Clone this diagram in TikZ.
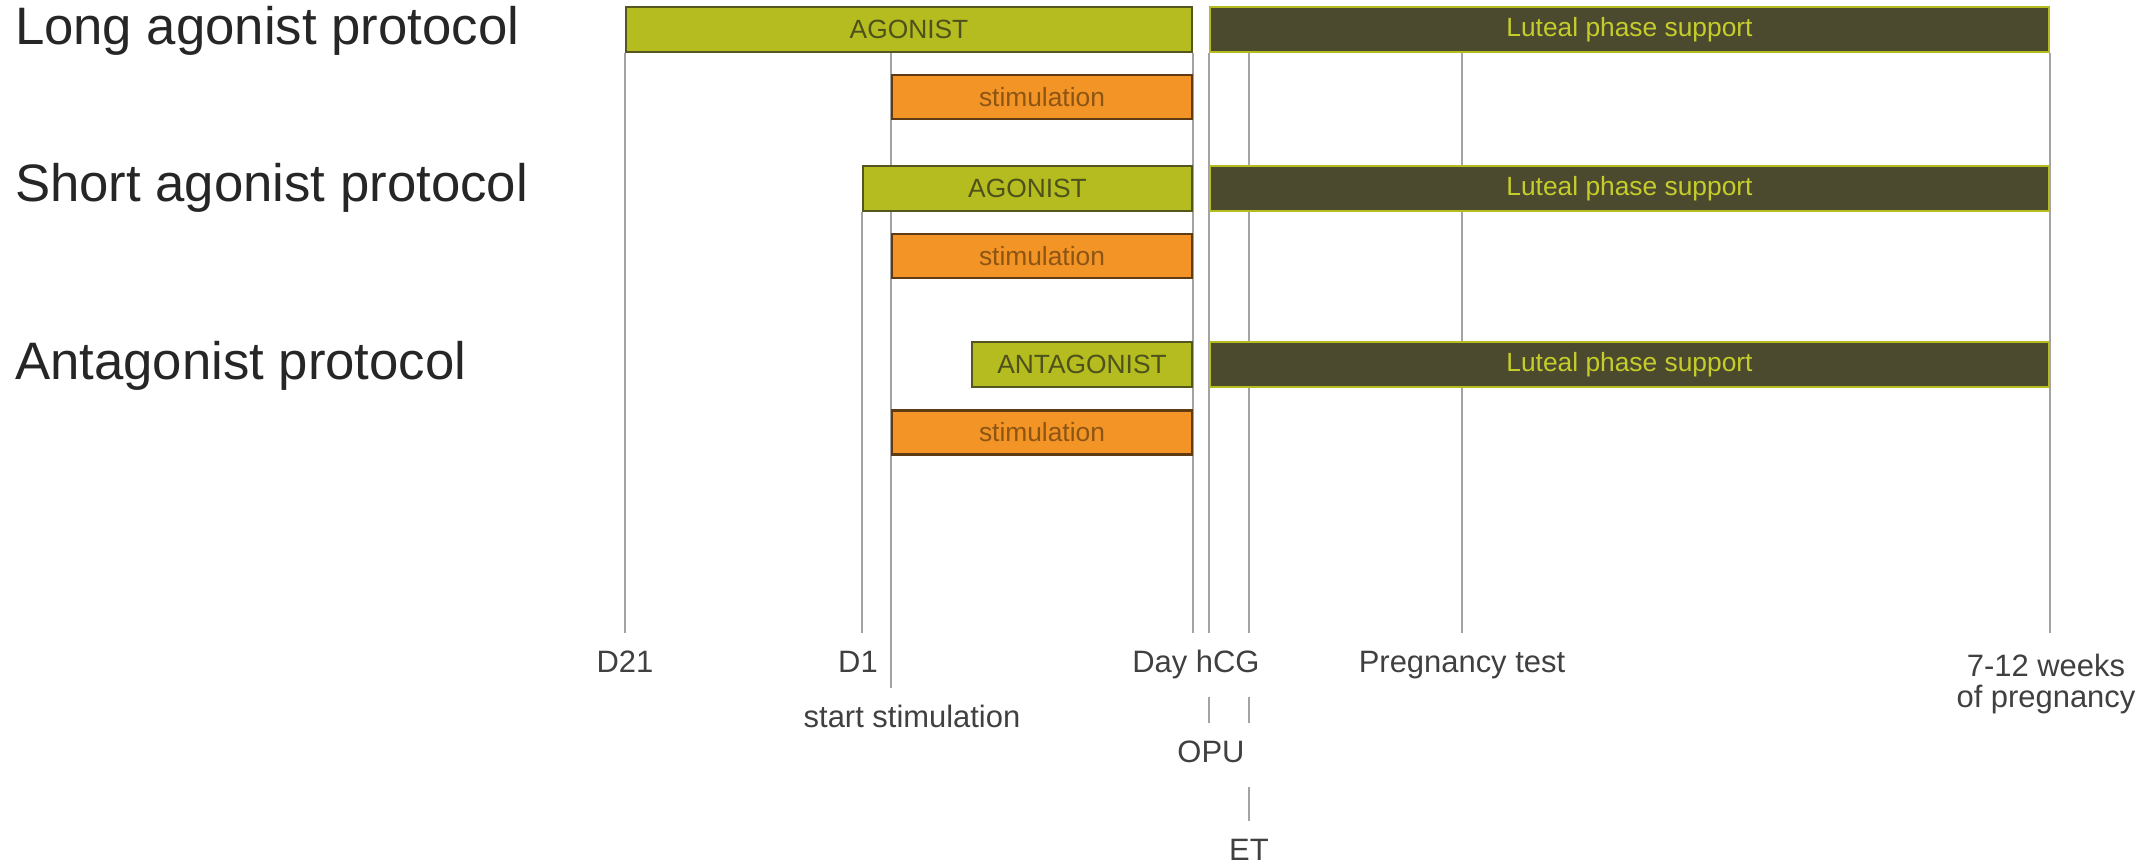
\documentclass[tikz,border=0pt]{standalone}
\usepackage{fontspec}
\setmainfont{Liberation Sans}
\usetikzlibrary{positioning,backgrounds}

\definecolor{agofill}{HTML}{B4BC1F}
\definecolor{agoedge}{HTML}{55561F}
\definecolor{agotext}{HTML}{4E511C}
\definecolor{stimfill}{HTML}{F39427}
\definecolor{stimedge}{HTML}{5E3B12}
\definecolor{stimtext}{HTML}{8C5513}
\definecolor{lutfill}{HTML}{4B4A2F}
\definecolor{luttext}{HTML}{C6CD2A}
\definecolor{protogray}{HTML}{262626}
\definecolor{tickgray}{HTML}{404040}
\definecolor{linegray}{HTML}{A3A3A3}

\begin{document}
\begin{tikzpicture}[semithick,
    bar/.style={draw, line width=0.6pt, inner sep=0pt, minimum height=0.45cm,
                font=\fontsize{7.5}{9}\selectfont},
    ago/.style={bar, fill=agofill, draw=agoedge, text=agotext},
    stim/.style={bar, fill=stimfill, draw=stimedge, text=stimtext,
                 minimum width=3cm, minimum height=0.44cm},
    lut/.style={bar, fill=lutfill, draw=agofill, text=luttext, minimum width=8.39cm},
    proto/.style={anchor=west, inner sep=0pt, text=protogray,
                  font=\fontsize{15}{18}\selectfont},
    tick/.style={inner sep=4.5pt, text height=6.5pt, text depth=2pt, text=tickgray,
                 font=\fontsize{8.8}{9}\selectfont},
    vline/.style={draw=linegray, line width=0.6pt}]

    \useasboundingbox (0,0) rectangle (21.49,-8.67);

    % protocols
    \node[proto] (long)  at (0.14,-0.31) {Long agonist protocol};
    \node[proto] (short) at (0.14,-1.88) {Short agonist protocol};
    \node[proto] (anta)  at (0.14,-3.66) {Antagonist protocol};

    % bars
    \node[ago, minimum width=5.66cm] (agoL)  at (9.09,-0.295)  {AGONIST};
    \node[stim]                      (stimL) at (10.42,-0.97)  {stimulation};
    \node[ago, minimum width=3.29cm] (agoS)  at (10.275,-1.885) {AGONIST};
    \node[stim]                      (stimS) at (10.42,-2.56)  {stimulation};
    \node[ago, minimum width=2.20cm] (antA)  at (10.82,-3.645) {ANTAGONIST};
    \node[stim]                      (stimA) at (10.42,-4.325) {stimulation};

    \node[lut] (lutL) at (16.295,-0.295) {Luteal phase support};
    \node[lut] (lutS) at (16.295,-1.885) {Luteal phase support};
    \node[lut] (lutA) at (16.295,-3.645) {Luteal phase support};

    % time points
    \node[tick] (d21)   at (6.25,-6.65)  {D21};
    \node[tick] (d1)    at (8.58,-6.65)  {D1};
    \node[tick] (start) at (9.12,-7.20)  {start stimulation};
    \node[tick] (hcg)   at (11.96,-6.65) {Day hCG};
    \node[tick] (opu)   at (12.11,-7.55) {OPU};
    \node[tick] (et)    at (12.49,-8.53) {ET};
    \node[tick] (preg)  at (14.62,-6.65) {Pregnancy test};
    \node[tick, text height=, text depth=, inner sep=0pt, align=center]
                (wks)   at (20.46,-6.84) {7-12 weeks\\of pregnancy};

    \begin{pgfonlayer}{background}
    \draw[vline] (agoL.south west) -- (agoL.south west |- d21.north);
    \draw[vline] (agoS.south west) -- (agoS.south west |- d1.north);
    \draw[vline] (stimL.west |- agoL.south) -- (stimL.west |- start.north);
    \draw[vline] (agoL.south east) -- (agoL.south east |- hcg.north);
    \draw[vline] (lutL.south west) -- (lutL.south west |- hcg.north);
    \draw[vline] (lutL.west |- hcg.south) -- (lutL.west |- opu.north);
    \draw[vline] (lutL.south -| et.north) -- (et.north |- hcg.north);
    \draw[vline] (et.north |- hcg.south) -- (et.north |- opu.north);
    \draw[vline] (et.north |- opu.south) -- (et.north);
    \draw[vline] (lutL.south -| preg.north) -- (preg.north);
    \draw[vline] (lutL.south east) -- (lutL.south east |- d21.north);
    \end{pgfonlayer}
\end{tikzpicture}
\end{document}
